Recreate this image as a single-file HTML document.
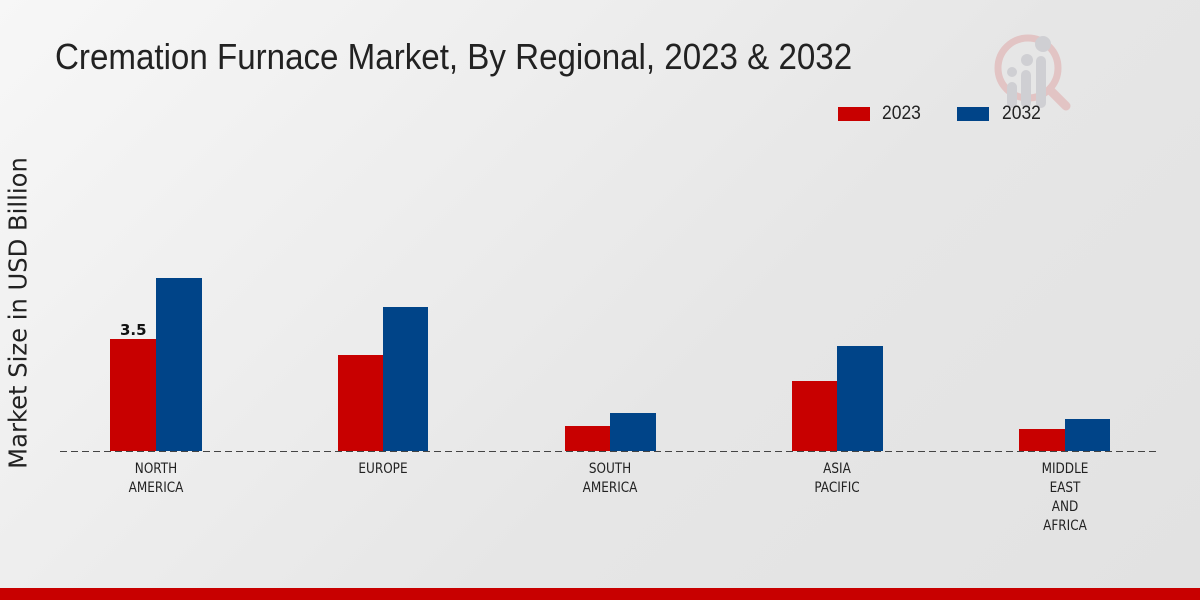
<!DOCTYPE html>
<html><head><meta charset="utf-8"><style>
html,body{margin:0;padding:0}
body{width:1200px;height:600px;position:relative;overflow:hidden;background:linear-gradient(135deg,#f7f7f7 0%,#e6e6e6 60%,#e2e2e2 100%);font-family:"Liberation Sans",sans-serif}
.t{position:absolute;white-space:nowrap}
.b{position:absolute}
.lab{position:absolute;font-size:14px;text-align:center;line-height:19px;width:120px;color:#222;font-family:"DejaVu Sans",sans-serif;transform:scaleX(0.86)}
</style></head><body>
<div class="t" style="left:55px;top:36px;font-size:36px;color:#222;font-family:'Liberation Sans Narrow','Liberation Sans',sans-serif;transform-origin:left;transform:scaleX(0.92)">Cremation Furnace Market, By Regional, 2023 &amp; 2032</div>
<svg class="b" style="left:990px;top:30px" width="85" height="85">
<circle cx="38" cy="38" r="30" fill="none" stroke="#e2c4c4" stroke-width="7"/>
<line x1="60" y1="60" x2="76" y2="76" stroke="#e2c4c4" stroke-width="9" stroke-linecap="round"/>
<circle cx="53" cy="14" r="8" fill="#cfcfd3"/><circle cx="37" cy="30" r="6" fill="#cfcfd3"/><circle cx="22" cy="42" r="5" fill="#cfcfd3"/>
<rect x="17" y="52" width="10" height="26" rx="5" fill="#cfcfd3"/><rect x="31" y="40" width="10" height="38" rx="5" fill="#cfcfd3"/><rect x="46" y="26" width="10" height="52" rx="5" fill="#cfcfd3"/>
</svg>
<div class="b" style="left:838px;top:107px;width:32px;height:14px;background:#c80000"></div>
<div class="t" style="left:882px;top:103px;font-size:19px;color:#222;transform-origin:left;transform:scaleX(0.92)">2023</div>
<div class="b" style="left:957px;top:107px;width:32px;height:14px;background:#004488"></div>
<div class="t" style="left:1002px;top:103px;font-size:19px;color:#222;transform-origin:left;transform:scaleX(0.92)">2032</div>
<div class="t" style="left:18px;top:313px;font-size:25px;color:#222;font-family:'DejaVu Sans',sans-serif;transform:translate(-50%,-50%) rotate(-90deg) scaleX(0.97);transform-origin:center;">Market Size in USD Billion</div>
<svg class="b" style="left:60px;top:450px" width="1100" height="3"><line x1="0" y1="1.5" x2="1100" y2="1.5" stroke="#444" stroke-width="1" stroke-dasharray="7,4"/></svg>
<div class="b" style="left:110px;top:339px;width:46px;height:112px;background:#c80000"></div>
<div class="b" style="left:156px;top:278px;width:46px;height:173px;background:#004488"></div>
<div class="b" style="left:338px;top:355px;width:45px;height:96px;background:#c80000"></div>
<div class="b" style="left:383px;top:307px;width:45px;height:144px;background:#004488"></div>
<div class="b" style="left:565px;top:426px;width:45px;height:25px;background:#c80000"></div>
<div class="b" style="left:610px;top:413px;width:46px;height:38px;background:#004488"></div>
<div class="b" style="left:792px;top:381px;width:45px;height:70px;background:#c80000"></div>
<div class="b" style="left:837px;top:346px;width:46px;height:105px;background:#004488"></div>
<div class="b" style="left:1019px;top:429px;width:46px;height:22px;background:#c80000"></div>
<div class="b" style="left:1065px;top:419px;width:45px;height:32px;background:#004488"></div>
<div class="t" style="left:120px;top:321px;font-size:15px;font-weight:bold;color:#111;font-family:'DejaVu Sans',sans-serif">3.5</div>
<div class="lab" style="left:96px;top:460px">NORTH<br>AMERICA</div>
<div class="lab" style="left:323px;top:460px">EUROPE</div>
<div class="lab" style="left:550px;top:460px">SOUTH<br>AMERICA</div>
<div class="lab" style="left:777px;top:460px">ASIA<br>PACIFIC</div>
<div class="lab" style="left:1005px;top:460px">MIDDLE<br>EAST<br>AND<br>AFRICA</div>
<div class="b" style="left:0;top:588px;width:1200px;height:12px;background:#c80000"></div>
</body></html>
